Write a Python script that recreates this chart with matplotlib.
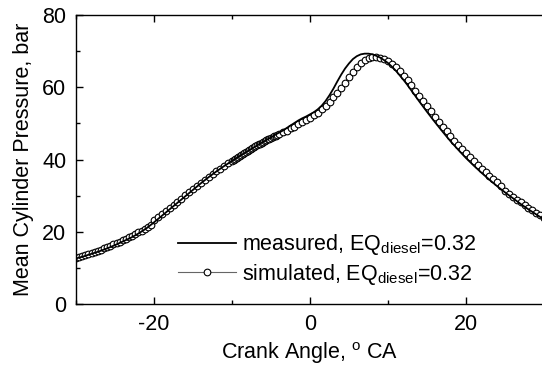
import numpy as np
import matplotlib
matplotlib.use("Agg")
import matplotlib.pyplot as plt

plt.rcParams["font.family"] = ["Liberation Sans", "DejaVu Sans"]
plt.rcParams["mathtext.fontset"] = "custom"
plt.rcParams["mathtext.rm"] = "Liberation Sans"
plt.rcParams["mathtext.it"] = "Liberation Sans:italic"
plt.rcParams["mathtext.bf"] = "Liberation Sans:bold"
plt.rcParams["axes.unicode_minus"] = False

# Measured mean cylinder pressure (bar) vs crank angle (deg CA)
meas_angle = (list(range(-30, -4)) +
              list(np.arange(-4.5, 14.01, 0.5)) +
              list(range(15, 31)))
meas_pressure = [
    12.6, 13.2, 13.9, 14.6, 15.4, 16.3, 17.3, 18.3, 19.5, 20.9,
    22.6, 24.4, 26.2, 28.0, 29.8, 31.6, 33.4, 35.1, 36.7, 38.2,
    39.6, 41.0, 42.3, 43.6, 44.9, 46.1,
    46.8, 47.4, 48.0, 48.7, 49.4, 50.1, 50.8, 51.4, 51.9, 52.5,
    53.1, 53.9, 54.9, 56.2, 57.8, 59.6, 61.6, 63.5, 65.2, 66.6,
    67.8, 68.6, 69.1, 69.3, 69.3, 69.1, 68.7, 68.2, 67.5, 66.7,
    65.7, 64.6, 63.3, 62.0, 60.6, 59.1, 57.6, 56.1,
    53.2, 50.4, 47.7, 45.1, 42.7, 40.4, 38.3, 36.3, 34.4, 32.6,
    30.9, 29.3, 27.7, 26.2, 24.8, 23.4,
]

# Simulated pressure on the solver's output steps
sim_angle = np.concatenate([
    np.arange(-30.0, -20.39, 0.4),
    np.arange(-20.0, -10.49, 0.5),
    np.arange(-10.0, -4.19, 0.2),
    np.arange(-4.0, 30.01, 0.5),
])
sim_pressure = [
    # -30 .. -20.4
    12.7, 12.9, 13.2, 13.5, 13.8, 14.1, 14.4, 14.7, 15.0, 15.4,
    15.7, 16.1, 16.5, 16.9, 17.3, 17.7, 18.1, 18.5, 18.9, 19.4,
    19.8, 20.3, 20.8, 21.3, 21.9,
    # -20 .. -10.5
    23.3, 24.1, 24.9, 25.7, 26.5, 27.4, 28.3, 29.2, 30.1, 31.0,
    31.9, 32.8, 33.6, 34.4, 35.2, 36.0, 36.8, 37.5, 38.2, 38.9,
    # -10 .. -4.2
    39.6, 39.9, 40.2, 40.5, 40.8, 41.0, 41.3, 41.6, 41.9, 42.1,
    42.4, 42.7, 42.9, 43.2, 43.4, 43.7, 43.9, 44.2, 44.4, 44.7,
    44.9, 45.1, 45.4, 45.6, 45.8, 46.0, 46.2, 46.4, 46.6, 46.8,
    # -4 .. 30
    47.0, 47.5, 48.0, 48.6, 49.1, 49.7, 50.3, 50.9, 51.5, 52.2,
    53.0, 53.9, 54.9, 56.0, 57.2, 58.5, 59.9, 61.3, 62.8, 64.2,
    65.6, 66.7, 67.6, 68.1, 68.4, 68.4, 68.2, 67.8, 67.2, 66.4,
    65.5, 64.4, 63.2, 61.9, 60.5, 59.1, 57.6, 56.2, 54.7, 53.3,
    51.9, 50.5, 49.1, 47.8, 46.5, 45.2, 44.0, 42.8, 41.7, 40.6,
    39.5, 38.5, 37.5, 36.5, 35.5, 34.6, 33.7, 32.8, 31.3, 30.5,
    29.7, 28.9, 28.1, 27.4, 26.7, 26.0, 25.3, 24.6, 23.9,
]

meas_label = r"measured, EQ$_{\mathrm{diesel}}$=0.32"
sim_label = r"simulated, EQ$_{\mathrm{diesel}}$=0.32"
x_ticks = [-20, 0, 20]
y_ticks = [0, 20, 40, 60, 80]

fig = plt.figure(figsize=(5.42, 3.67), dpi=100)
ax = fig.add_axes([76 / 542, 63 / 367, 468 / 542, 289 / 367])

ax.plot(meas_angle, meas_pressure, color="black", lw=1.3, label=meas_label,
        zorder=3)
ax.plot(sim_angle, sim_pressure, color="#666666", lw=0.8, marker="o",
        ms=4.8, mfc="white", mec="black", mew=0.8, label=sim_label, zorder=2)

ax.set_xlim(-30, 30)
ax.set_ylim(0, 80)
ax.set_xticks(x_ticks)
ax.set_yticks(y_ticks)
ax.set_xticks([-30, -10, 10, 30], minor=True)
ax.set_yticks([10, 30, 50, 70], minor=True)
ax.tick_params(which="both", direction="in", top=True, right=False,
               labelsize=15.5, width=1.0, colors="black")
ax.tick_params(which="major", length=5, pad=7)
ax.tick_params(which="minor", length=3)
for s in ax.spines.values():
    s.set_linewidth(1.0)
ax.spines["right"].set_visible(False)

ax.set_xlabel(r"Crank Angle, $^{\mathrm{o}}$ CA", fontsize=15.5, labelpad=4)
ax.set_ylabel("Mean Cylinder Pressure, bar", fontsize=15.5, labelpad=6)

ax.legend(loc="lower left", bbox_to_anchor=(0.20, 0.03), frameon=False,
          fontsize=15.5, handlelength=2.7, handletextpad=0.25,
          labelspacing=0.2, numpoints=1, borderaxespad=0.0)

fig.savefig("out.png", dpi=100)
